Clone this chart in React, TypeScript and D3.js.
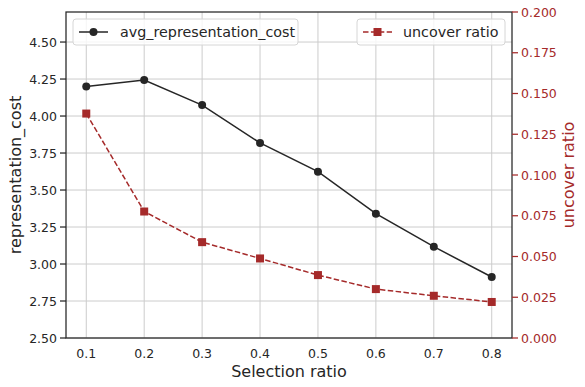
import React from "react";
import * as d3 from "d3";

const ratios = [0.1, 0.2, 0.3, 0.4, 0.5, 0.6, 0.7, 0.8];
const avgCost = [4.2, 4.243, 4.074, 3.818, 3.624, 3.34, 3.117, 2.912];
const uncover = [0.1377, 0.0776, 0.0588, 0.0488, 0.0386, 0.03, 0.0259, 0.0221];
const leftTicks = [2.5, 2.75, 3.0, 3.25, 3.5, 3.75, 4.0, 4.25, 4.5];
const rightTicks = [0, 0.025, 0.05, 0.075, 0.1, 0.125, 0.15, 0.175, 0.2];

const width = 585;
const height = 387;
const margin = { top: 12, right: 73, bottom: 49, left: 66 };
const innerWidth = width - margin.left - margin.right;
const innerHeight = height - margin.top - margin.bottom;

const ink = "#262626";
const red = "#a52a2a";
const font = "DejaVu Sans, sans-serif";

export default function App() {
  const x = d3.scaleLinear().domain([0.065, 0.835]).range([0, innerWidth]);
  const yL = d3.scaleLinear().domain([2.5, 4.703]).range([innerHeight, 0]);
  const yR = d3.scaleLinear().domain([0, 0.2]).range([innerHeight, 0]);

  const costLine = d3
    .line<number>()
    .x((_, i) => x(ratios[i]))
    .y((d) => yL(d));
  const uncoverLine = d3
    .line<number>()
    .x((_, i) => x(ratios[i]))
    .y((d) => yR(d));

  return (
    <svg
      width={width}
      height={height}
      style={{ position: "absolute", left: 0, top: 0, background: "#fff" }}
      fontFamily={font}
    >
      <g transform={`translate(${margin.left},${margin.top})`}>
        {/* grid */}
        {ratios.map((r) => (
          <line key={"gx" + r} x1={x(r)} x2={x(r)} y1={0} y2={innerHeight} stroke="#cccccc" strokeWidth={1} />
        ))}
        {leftTicks.map((t) => (
          <line key={"gy" + t} x1={0} x2={innerWidth} y1={yL(t)} y2={yL(t)} stroke="#cccccc" strokeWidth={1} />
        ))}

        {/* series */}
        <path d={costLine(avgCost) || ""} fill="none" stroke={ink} strokeWidth={1.5} />
        {avgCost.map((v, i) => (
          <circle key={"c" + i} cx={x(ratios[i])} cy={yL(v)} r={4} fill={ink} />
        ))}
        <path d={uncoverLine(uncover) || ""} fill="none" stroke={red} strokeWidth={1.5} strokeDasharray="5.5,2.4" />
        {uncover.map((v, i) => (
          <rect key={"s" + i} x={x(ratios[i]) - 4} y={yR(v) - 4} width={8} height={8} fill={red} />
        ))}

        {/* spines */}
        <rect x={0} y={0} width={innerWidth} height={innerHeight} fill="none" stroke={ink} strokeWidth={1.25} />

        {/* x tick labels */}
        {ratios.map((r) => (
          <text key={"xt" + r} x={x(r)} y={innerHeight + 20} textAnchor="middle" fontSize={12.5} fill={ink}>
            {r.toFixed(1)}
          </text>
        ))}

        {/* left ticks */}
        {leftTicks.map((t) => (
          <g key={"lt" + t} transform={`translate(0,${yL(t)})`}>
            <line x1={-6} x2={0} stroke={ink} strokeWidth={1.25} />
            <text x={-9} dy="0.36em" textAnchor="end" fontSize={12.5} fill={ink}>
              {t.toFixed(2)}
            </text>
          </g>
        ))}

        {/* right ticks */}
        {rightTicks.map((t) => (
          <g key={"rt" + t} transform={`translate(${innerWidth},${yR(t)})`}>
            <line x1={0} x2={6} stroke={red} strokeWidth={1.25} />
            <text x={9} dy="0.36em" textAnchor="start" fontSize={12.5} fill={red}>
              {t.toFixed(3)}
            </text>
          </g>
        ))}

        {/* axis labels */}
        <text x={innerWidth / 2} y={innerHeight + 38.5} textAnchor="middle" fontSize={16} fill={ink}>
          Selection ratio
        </text>
        <text
          transform={`translate(${-45},${innerHeight / 2}) rotate(-90)`}
          textAnchor="middle"
          fontSize={16}
          fill={ink}
        >
          representation_cost
        </text>
        <text
          transform={`translate(${innerWidth + 62},${innerHeight / 2}) rotate(-90)`}
          textAnchor="middle"
          fontSize={16}
          fill={red}
        >
          uncover ratio
        </text>

        {/* legends */}
        <g transform="translate(7,7)">
          <rect x={0} y={0} width={225} height={26} rx={3} fill="#fff" fillOpacity={0.8} stroke="#d6d6d6" />
          <line x1={6} x2={35} y1={13} y2={13} stroke={ink} strokeWidth={1.5} />
          <circle cx={20.5} cy={13} r={4} fill={ink} />
          <text x={47} y={13} dy="0.35em" fontSize={14.3} fill={ink}>
            avg_representation_cost
          </text>
        </g>
        <g transform="translate(291,7)">
          <rect x={0} y={0} width={148} height={26} rx={3} fill="#fff" fillOpacity={0.8} stroke="#d6d6d6" />
          <line x1={6} x2={35} y1={13} y2={13} stroke={red} strokeWidth={1.5} strokeDasharray="5.5,2.4" />
          <rect x={16.5} y={9} width={8} height={8} fill={red} />
          <text x={46} y={13} dy="0.35em" fontSize={14.3} fill={ink}>
            uncover ratio
          </text>
        </g>
      </g>
    </svg>
  );
}
